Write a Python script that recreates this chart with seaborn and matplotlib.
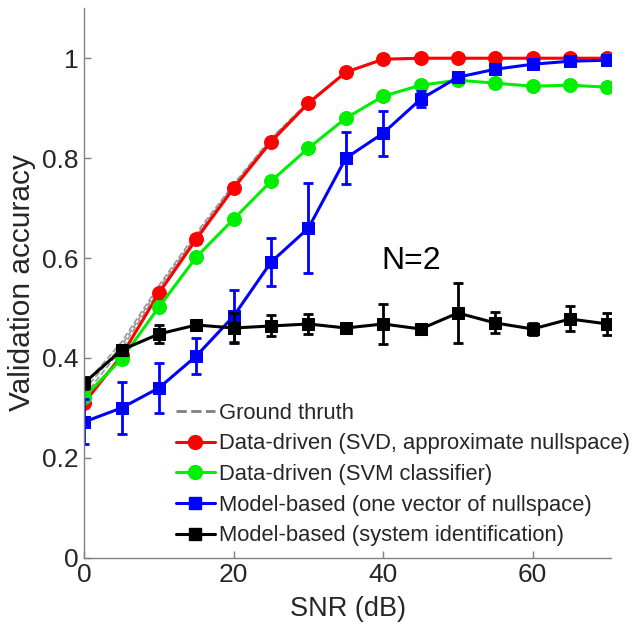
import matplotlib

matplotlib.use("Agg")
import matplotlib.pyplot as plt
import numpy as np
import pandas as pd
import seaborn as sns
from matplotlib.lines import Line2D

# SNR grid (dB)
snr = [0, 5, 10, 15, 20, 25, 30, 35, 40, 45, 50, 55, 60, 65, 70]

# ground truth curves (several realisations, drawn as grey dashes)
truth_a = [0.335, 0.425, 0.540, 0.645, 0.745, 0.838, 0.912, 0.973, 0.998, 1.0, 1.0, 1.0, 1.0, 1.0, 1.0]
truth_b = [0.345, 0.432, 0.545, 0.650, 0.748, 0.840, 0.913, 0.973, 0.998, 1.0, 1.0, 1.0, 1.0, 1.0, 1.0]
truth_c = [0.325, 0.418, 0.535, 0.642, 0.743, 0.836, 0.911, 0.972, 0.998, 1.0, 1.0, 1.0, 1.0, 1.0, 1.0]

svd_acc = [0.310, 0.405, 0.530, 0.638, 0.740, 0.833, 0.910, 0.972, 0.998, 1.0, 1.0, 1.0, 1.0, 1.0, 1.0]
svm_acc = [0.322, 0.398, 0.502, 0.602, 0.678, 0.754, 0.820, 0.880, 0.924, 0.946, 0.956, 0.950, 0.944, 0.946, 0.942]

null_acc = [0.272, 0.300, 0.340, 0.404, 0.484, 0.592, 0.660, 0.800, 0.850, 0.918, 0.962, 0.978, 0.988, 0.994, 0.996]
null_err = [0.045, 0.052, 0.050, 0.036, 0.052, 0.048, 0.090, 0.052, 0.045, 0.016, 0.004, 0.004, 0.003, 0.003, 0.003]

sysid_acc = [0.350, 0.416, 0.448, 0.466, 0.460, 0.464, 0.468, 0.460, 0.468, 0.458, 0.490, 0.470, 0.458, 0.478, 0.468]
sysid_err = [0.012, 0.010, 0.018, 0.010, 0.030, 0.021, 0.020, 0.010, 0.040, 0.010, 0.060, 0.021, 0.012, 0.025, 0.022]

labels = [
    "Ground thruth",
    "Data-driven (SVD, approximate nullspace)",
    "Data-driven (SVM classifier)",
    "Model-based (one vector of nullspace)",
    "Model-based (system identification)",
]
colors = ["#808080", "#ff0000", "#00ee00", "#0000ff", "#000000"]

sns.set_style("ticks")
plt.rcParams["font.family"] = ["Liberation Sans", "DejaVu Sans"]
plt.rcParams["text.color"] = "#262626"

fig = plt.figure(figsize=(6.38, 6.36), dpi=100)
ax = fig.add_axes([0.132, 0.123, 0.826, 0.864])

for truth in (truth_a, truth_b, truth_c):
    sns.lineplot(x=snr, y=truth, ax=ax, color=colors[0], linestyle="--", linewidth=1.2, alpha=0.8)

sns.lineplot(x=snr, y=svd_acc, ax=ax, color=colors[1], linewidth=2.2,
             marker="o", markersize=10, markeredgecolor=colors[1])
sns.lineplot(x=snr, y=svm_acc, ax=ax, color=colors[2], linewidth=2.2,
             marker="o", markersize=10, markeredgecolor=colors[2])

for acc, err, col in ((null_acc, null_err, colors[3]), (sysid_acc, sysid_err, colors[4])):
    ax.errorbar(snr, acc, yerr=err, fmt="none", ecolor=col, elinewidth=2, capsize=3.5, capthick=2)
    sns.lineplot(x=snr, y=acc, ax=ax, color=col, linewidth=2.2,
                 marker="s", markersize=8, markeredgecolor=col)

ax.text(43.8, 0.595, "N=2", fontsize=23, ha="center", va="center", color="black")

ax.set_xlim(0, 70.5)
ax.set_ylim(0, 1.1)
ax.set_xticks([0, 20, 40, 60])
ax.set_yticks([0, 0.2, 0.4, 0.6, 0.8, 1.0])
ax.set_yticklabels(["0", "0.2", "0.4", "0.6", "0.8", "1"])
ax.tick_params(direction="in", length=5, width=1, color="#808080", labelsize=19,
               labelcolor="#262626", pad=4)
for side in ("top", "right"):
    ax.spines[side].set_visible(False)
for side in ("left", "bottom"):
    ax.spines[side].set_color("#808080")
    ax.spines[side].set_linewidth(1)

ax.set_xlabel("SNR (dB)", fontsize=19.5, color="#262626", labelpad=6)
ax.set_ylabel("Validation accuracy", fontsize=21.5, color="#262626", labelpad=4)

handles = [
    Line2D([], [], color=colors[0], linestyle="--", linewidth=2),
    Line2D([], [], color=colors[1], linewidth=2.2, marker="o", markersize=10),
    Line2D([], [], color=colors[2], linewidth=2.2, marker="o", markersize=10),
    Line2D([], [], color=colors[3], linewidth=2.2, marker="s", markersize=8),
    Line2D([], [], color=colors[4], linewidth=2.2, marker="s", markersize=8),
]
ax.legend(handles, labels, loc="lower left", bbox_to_anchor=(0.158, 0.005), frameon=False,
          fontsize=15.8, handlelength=1.75, handletextpad=0.2, labelspacing=0.44,
          borderaxespad=0)

fig.savefig("out.png", dpi=100)
